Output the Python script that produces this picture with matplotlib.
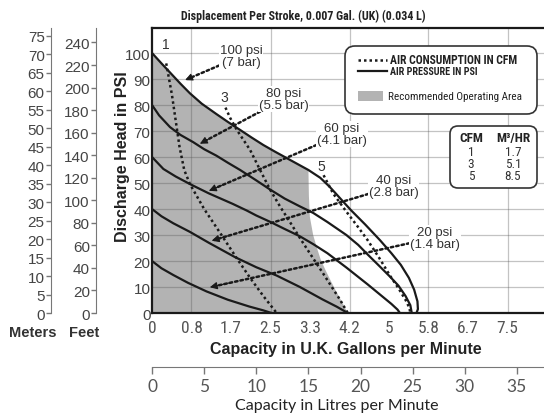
import numpy as np
import matplotlib
matplotlib.use("Agg")
import matplotlib.pyplot as plt
from matplotlib import font_manager
from matplotlib.patches import FancyBboxPatch, Rectangle
from matplotlib.lines import Line2D

# air pressure curves: capacity (UK gal/min) vs discharge head (psi)
gal_100 = [0, 0.2, 0.38, 0.6, 0.8, 1.05, 1.36, 1.6, 1.86, 2.1, 2.35, 2.6, 2.85, 3.1, 3.3,
           3.55, 3.75, 3.95, 4.2, 4.5, 4.81, 5.05, 5.25, 5.42, 5.53, 5.6, 5.61, 5.58]
psi_100 = [100, 96, 92.5, 88.2, 84.5, 80.5, 76.5, 73.5, 70.4, 67.5, 64.6, 62, 59.5, 57, 55,
           52, 48.5, 44.5, 39.5, 34, 28, 23, 18.5, 13.5, 9, 4.5, 1.5, 0]
gal_80 = [0, 0.15, 0.38, 0.6, 0.87, 1.1, 1.36, 1.6, 1.86, 2.2, 2.49, 2.8, 3.12, 3.4, 3.7,
          4.1, 4.35, 4.55, 4.8, 5.02, 5.2, 5.35, 5.45, 5.48]
psi_80 = [80, 76, 71.5, 68.5, 65.7, 63, 60.5, 57.8, 55, 51, 47.5, 44, 41, 38.5, 35,
          30, 26.2, 22.5, 18, 14, 10.5, 6.5, 3, 0]
gal_60 = [0, 0.24, 0.5, 0.8, 1.2, 1.7, 2.0, 2.2, 2.5, 2.8, 3.12, 3.4, 3.7, 4.1, 4.55,
          4.85, 5.05, 5.18, 5.23]
psi_60 = [60, 55.4, 52.5, 49.6, 46, 42, 39.4, 37.5, 35, 32.3, 29.5, 26.5, 23, 17.5, 11,
          6.5, 3.5, 1.3, 0]
gal_40 = [0, 0.2, 0.45, 0.8, 1.2, 1.5, 1.75, 2.2, 2.63, 3.12, 3.6, 3.9, 4.13]
psi_40 = [40, 37.2, 34.5, 31.2, 27, 24, 21.5, 17.6, 14.4, 10, 5.2, 2.4, 0]
gal_20 = [0, 0.2, 0.45, 0.76, 1.15, 1.6, 2.05, 2.35, 2.52]
psi_20 = [20, 17.2, 14.6, 11.6, 8.3, 5.1, 2.5, 1, 0]

# air consumption curves (dotted)
gal_c1 = [0.3, 0.36, 0.42, 0.5, 0.58, 0.68, 0.8, 1.1, 1.43, 1.79, 2.07, 2.35, 2.63]
psi_c1 = [96, 90, 84, 74, 64, 55, 49.6, 40, 31, 21, 13.5, 6.5, 0]
gal_c3 = [1.55, 1.65, 1.79, 2.07, 2.28, 2.49, 2.7, 2.91, 3.15, 3.4, 3.6, 3.8, 3.97, 4.13]
psi_c3 = [79, 75, 70.4, 62.7, 55, 47.5, 41, 35, 28, 21, 15.5, 9.8, 5, 0]
gal_c5 = [3.62, 3.72, 3.82, 4.1, 4.35, 4.55, 4.8, 5.02, 5.2, 5.35, 5.43, 5.45]
psi_c5 = [53, 49.5, 46, 39, 33, 28, 21, 14.4, 9.5, 5, 2, 0]

# right edge of recommended operating area
edge_gal = [3.3, 3.31, 3.33, 3.4, 3.48, 3.56, 3.66, 3.76, 3.88, 4.0, 4.13]
edge_psi = [55, 45, 37, 30, 25, 20.5, 16.5, 12.8, 8.5, 4.5, 0]

gal_ticks = [0, 0.833, 1.667, 2.5, 3.333, 4.167, 5, 5.833, 6.667, 7.5]
gal_labels = ["0", "0.8", "1.7", "2.5", "3.3", "4.2", "5", "5.8", "6.7", "7.5"]
gal_grid = [0.833, 2.5, 4.167, 5.833, 7.5]
psi_ticks = list(range(0, 101, 10))
litre_ticks = list(range(0, 36, 5))
meter_ticks = list(range(0, 76, 5))
feet_ticks = list(range(0, 241, 20))

psi_labels = [("100 psi\n(7 bar)", (1.88, 98.8), (0.70, 89.6)),
              ("80 psi\n(5.5 bar)", (2.78, 82.3), (1.01, 65.1)),
              ("60 psi\n(4.1 bar)", (4.01, 68.8), (1.2, 47.0)),
              ("40 psi\n(2.8 bar)", (5.1, 48.7), (1.26, 27.8)),
              ("20 psi\n(1.4 bar)", (5.97, 29.0), (1.22, 9.9))]
cfm_rows = [("1", "1.7"), ("3", "5.1"), ("5", "8.5")]

W, H = 544, 414
GAL_PX = 47.4
PSI_PX = 2.6
XMAX = 8.6
YMAX = (314 - 29) / PSI_PX


def pick(names):
    for n in names:
        try:
            font_manager.findfont(font_manager.FontProperties(family=n), fallback_to_default=False)
            return n
        except Exception:
            pass
    return "DejaVu Sans"


NARROW = [pick(["Liberation Sans Narrow", "Arial Narrow", "Roboto Condensed",
                "DejaVu Sans Condensed", "Open Sans Condensed", "Roboto"]), "DejaVu Sans"]
SANS = [pick(["Liberation Sans", "Arial"]), "DejaVu Sans"]
HUMAN = [pick(["Lato", "Open Sans"]), "DejaVu Sans"]


def fx(px):
    return px / W


def fy(py):
    return 1 - py / H


fig = plt.figure(figsize=(W / 100, H / 100), dpi=100)
renderer = fig.canvas.get_renderer()


def fit(t, target):
    # scale a text so its width matches the reference width in pixels
    w = t.get_window_extent(renderer=renderer).width
    t.set_fontsize(t.get_fontsize() * target / w)


axw = XMAX * GAL_PX / W
axh = (314 - 29) / H
ax = fig.add_axes([fx(152), fy(314), axw, axh])
ax.set_xlim(0, XMAX)
ax.set_ylim(0, YMAX)

# shaded area
fill_g = gal_100[:15] + edge_gal[1:] + [0]
fill_p = psi_100[:15] + edge_psi[1:] + [0]
ax.fill(fill_g, fill_p, color="#b3b3b3", lw=0, zorder=1)

for g in gal_grid:
    ax.axvline(g, color="#555555", alpha=0.35, lw=0.9, zorder=2)
for p in psi_ticks[1:]:
    ax.axhline(p, color="#555555", alpha=0.35, lw=0.9, zorder=2)

for g, p in [(gal_100, psi_100), (gal_80, psi_80), (gal_60, psi_60), (gal_40, psi_40), (gal_20, psi_20)]:
    ax.plot(g, p, color="#1a1a1a", lw=1.6, zorder=3, solid_capstyle="round")
for g, p in [(gal_c1, psi_c1), (gal_c3, psi_c3), (gal_c5, psi_c5)]:
    ax.plot(g, p, color="#1a1a1a", lw=1.8, ls=(0, (1, 1.2)), zorder=3)

for txt, xyt, xy in psi_labels:
    ax.annotate(txt, xy=xy, xytext=xyt, ha="center", va="center", fontsize=9.5,
                family=SANS, color="#333333", linespacing=1.0, zorder=5,
                bbox=dict(boxstyle="square,pad=0.05", fc="white", ec="none"),
                arrowprops=dict(arrowstyle="-", linestyle=(0, (1, 1.2)), lw=1.8, color="#1a1a1a",
                                shrinkA=0, shrinkB=2))
    # solid arrow head at the curve end
    back = (xy[0] + 0.1 * (xyt[0] - xy[0]), xy[1] + 0.1 * (xyt[1] - xy[1]))
    ax.annotate("", xy=xy, xytext=back, zorder=5,
                arrowprops=dict(arrowstyle="-|>", lw=0.8, color="#1a1a1a",
                                mutation_scale=11, shrinkA=0, shrinkB=0))

ax.text(0.3, 103.5, "1", ha="center", va="center", fontsize=10, family=SANS, color="#333333")
ax.text(1.52, 83.2, "3", ha="center", va="center", fontsize=10, family=SANS, color="#333333")
ax.text(3.58, 56.5, "5", ha="center", va="center", fontsize=10, family=SANS, color="#333333")

for s in ["left", "bottom", "top"]:
    ax.spines[s].set_linewidth(1.6)
    ax.spines[s].set_color("#1a1a1a")
ax.spines["right"].set_visible(False)
ax.set_xticks(gal_ticks)
xl = ax.set_xticklabels(gal_labels, family=NARROW, fontsize=12.5, color="#555555")
xl[0].set_x(0.06)
ax.set_yticks(psi_ticks)
ax.set_yticklabels([str(t) for t in psi_ticks], family=SANS, fontsize=11, color="#444444")
ax.tick_params(axis="x", length=0, pad=5)
ax.tick_params(axis="y", length=0, pad=1)

fig.text(fx(122), fy(157), "Discharge Head in PSI", rotation=90, ha="center", va="center",
         fontsize=11.5, fontweight="bold", family=SANS, color="#222222")
fig.text(fx(346), fy(350), "Capacity in U.K. Gallons per Minute", ha="center", va="center",
         fontsize=11.5, fontweight="bold", family=SANS, color="#222222")
t = fig.text(fx(303), fy(16), "Displacement Per Stroke, 0.007 Gal. (UK) (0.034 L)", ha="center",
             va="center", fontsize=7.5, fontweight="bold", family=NARROW, color="#222222")
fit(t, 243)

# litres axis
axl = fig.add_axes([fx(152), fy(368), axw, 0.0001])
axl.set_xlim(0, XMAX * 4.546)
axl.set_yticks([])
for s in ["left", "right", "top"]:
    axl.spines[s].set_visible(False)
axl.spines["bottom"].set_color("#777777")
axl.set_xticks(litre_ticks)
axl.set_xticklabels([str(t) for t in litre_ticks], family=HUMAN, fontsize=12.5, color="#555555")
axl.tick_params(axis="x", length=5, width=1, color="#777777", pad=3)
fig.text(fx(337), fy(406), "Capacity in Litres per Minute", ha="center", va="center",
         fontsize=11.5, family=HUMAN, color="#222222")

# meters / feet axes
for px, top, ticks in [(51, YMAX * 0.7031, meter_ticks), (96, YMAX * 2.3067, feet_ticks)]:
    a = fig.add_axes([fx(px), fy(314), 0.0001, axh])
    a.set_ylim(0, top)
    a.set_xticks([])
    for s in ["right", "bottom", "top"]:
        a.spines[s].set_visible(False)
    a.spines["left"].set_color("#777777")
    a.set_yticks(ticks)
    a.set_yticklabels([str(t) for t in ticks], family=SANS, fontsize=11, color="#444444")
    a.tick_params(axis="y", length=3.5, width=1, color="#777777", pad=1)
fig.text(fx(33), fy(333), "Meters", ha="center", va="center", fontsize=10.5,
         fontweight="bold", family=SANS, color="#333333")
fig.text(fx(84), fy(333), "Feet", ha="center", va="center", fontsize=10.5,
         fontweight="bold", family=SANS, color="#333333")


# legend boxes (positions in inches)
def inch(px, py):
    return px / 100, (H - py) / 100


x0, y0 = inch(345, 115)
fig.patches.append(FancyBboxPatch((x0, y0), 1.92, 0.68, boxstyle="round,pad=0,rounding_size=0.1",
                                  transform=fig.dpi_scale_trans, fc="white", ec="#333333", lw=1.2,
                                  zorder=6))
fig.lines.append(Line2D([fx(358), fx(387)], [fy(61), fy(61)], transform=fig.transFigure,
                        color="#1a1a1a", lw=1.8, ls=(0, (1, 1.2)), zorder=7))
fig.lines.append(Line2D([fx(358), fx(387)], [fy(71.5), fy(71.5)], transform=fig.transFigure,
                        color="#1a1a1a", lw=1.6, zorder=7))
fig.patches.append(Rectangle((fx(358), fy(102)), fx(25), 10 / H, transform=fig.transFigure,
                             fc="#b3b3b3", ec="none", zorder=7))
t = fig.text(fx(390), fy(61), "AIR CONSUMPTION IN CFM", va="center", fontsize=7.3,
             fontweight="bold", family=NARROW, color="#222222", zorder=8)
fit(t, 128)
t = fig.text(fx(390), fy(72), "AIR PRESSURE IN PSI", va="center", fontsize=7.3,
             fontweight="bold", family=NARROW, color="#222222", zorder=8)
fit(t, 87)
t = fig.text(fx(388), fy(97), "Recommended Operating Area", va="center", fontsize=7,
             family=NARROW, color="#222222", zorder=8)
fit(t, 135)

x0, y0 = inch(450, 189)
fig.patches.append(FancyBboxPatch((x0, y0), 0.87, 0.62, boxstyle="round,pad=0,rounding_size=0.08",
                                  transform=fig.dpi_scale_trans, fc="white", ec="#333333", lw=1.2,
                                  zorder=6))
fig.text(fx(471), fy(139), "CFM", ha="center", va="center", fontsize=9.5, fontweight="bold",
         family=NARROW, color="#222222", zorder=8)
fig.text(fx(513), fy(139), "M³/HR", ha="center", va="center", fontsize=9.5, fontweight="bold",
         family=NARROW, color="#222222", zorder=8)
for i, (c, m) in enumerate(cfm_rows):
    fig.text(fx(471), fy(153 + 12 * i), c, ha="center", va="center", fontsize=9.5,
             family=NARROW, color="#333333", zorder=8)
    fig.text(fx(513), fy(153 + 12 * i), m, ha="center", va="center", fontsize=9.5,
             family=NARROW, color="#333333", zorder=8)

fig.savefig("out.png", dpi=100)
